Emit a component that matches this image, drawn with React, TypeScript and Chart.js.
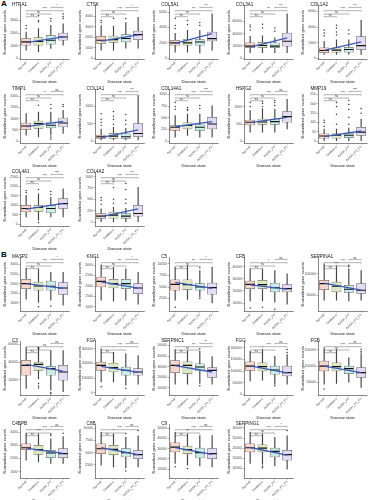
import React, { useEffect, useRef } from 'react';
import { Chart, registerables } from 'chart.js';
Chart.register(...registerables);

const FONT = "'Liberation Sans', Arial, sans-serif";

const CATEGORIES = ['Normal', 'Steatosis', 'NASH_F0', 'NASH_F1_F4'];
const BOX_FILL = ['#F9D6CB', '#DDE8C3', '#C9ECE9', '#E6DBF4'];

const GENES = [
  'HTRA1', 'CTSK', 'COL5A1', 'COL3A1', 'COL1A2',
  'TIMP1', 'COL1A1', 'COL14A1', 'HSPG2', 'MMP19',
  'COL4A1', 'COL4A2',
  'MASP2', 'KNG1', 'C5', 'CFB', 'SERPINA1',
  'C3', 'FGA', 'SERPINC1', 'FGG', 'FGB',
  'C4BPB', 'C8B', 'C9', 'SERPING1',
];

// whisker lower ends
const LOWER = [
  [650, 520, 780, 1040], [780, 780, 970, 970], [775, 775, 650, 1030], [9050, 9050, 9050, 9050], [500, 500, 500, 500],
  [265, 190, 265, 340], [29, 29, 29, 29], [90, 126, 90, 90], [266, 266, 266, 360], [3, 3, 3, 4],
  [384, 210, 384, 384], [10, 0, 10, 6],
  [1195, 1026, 1144, 887], [1325, 1278, 1325, 1137], [2158, 2308, 2863, 1581], [11800, 11800, 10740, 9100], [38480, 38480, 36870, 38480],
  [10440, 21000, 8560, 6670], [74320, 74320, 52030, 58780], [13610, 13610, 14260, 13610], [57630, 60590, 43640, 43640], [45210, 47310, 51200, 35330],
  [1872, 1744, 1624, 1624], [2440, 2097, 1895, 2097], [15440, 13790, 13110, 12140], [12350, 11860, 11180, 9560],
];
const Q1 = [
  [1040, 1040, 1120, 1430], [1415, 1510, 1570, 1790], [1680, 1680, 1680, 2230], [17000, 17000, 17000, 19500], [710, 790, 790, 1125],
  [518, 562, 588, 633], [77, 77, 77, 123], [231, 265, 231, 265], [474, 486, 486, 551], [17, 17, 19, 32],
  [647, 668, 595, 826], [80, 87, 80, 130],
  [1744, 1656, 1656, 1436], [1953, 1906, 1877, 1641], [4295, 4444, 4295, 3440], [21970, 21970, 19180, 19180], [63130, 57600, 56220, 53920],
  [25220, 30780, 25220, 19670], [153380, 141890, 119590, 119590], [24440, 23520, 25930, 19810], [102970, 100000, 86020, 78810], [85030, 85030, 77250, 65270],
  [2677, 2323, 2075, 2075], [4798, 4597, 4113, 3790], [26700, 25150, 20870, 20290], [18040, 18040, 15590, 13970],
];
const MEDIAN = [
  [1300, 1330, 1430, 1690], [1725, 1790, 1890, 2260], [1975, 1975, 2100, 2540], [19500, 20600, 19500, 27500], [1000, 1040, 1125, 1625],
  [677, 783, 708, 810], [123, 143, 123, 220], [300, 336, 300, 370], [551, 560, 571, 714], [28, 32, 32, 49],
  [826, 879, 826, 1090], [130, 152, 130, 189],
  [2000, 1877, 1862, 1774], [2222, 2113, 2113, 1906], [5577, 5513, 5000, 4872], [25490, 25250, 22790, 21970], [76960, 70740, 63820, 61520],
  [36330, 37440, 32670, 28890], [187160, 171620, 153380, 141890], [31200, 31200, 29630, 26570], [121190, 118640, 104240, 93220], [100000, 98200, 92220, 80240],
  [2827, 2677, 2421, 2376], [5806, 5665, 5000, 4597], [31550, 29030, 26120, 25150], [20200, 20000, 18380, 16760],
];
const Q3 = [
  [1570, 1640, 1830, 2000], [2100, 2130, 2260, 2600], [2320, 2410, 2410, 3390], [24900, 25900, 24900, 40800], [1340, 1340, 1410, 2790],
  [810, 898, 854, 1031], [171, 220, 209, 506], [336, 391, 349, 510], [617, 646, 646, 857], [40, 40, 44, 75],
  [1000, 1000, 1000, 1352], [189, 217, 189, 370],
  [2221, 2082, 2133, 2051], [2425, 2316, 2316, 2113], [6581, 6581, 5726, 5855], [28200, 28770, 26560, 25250], [84560, 80650, 73040, 76960],
  [41890, 40000, 35220, 36330], [209460, 202700, 175680, 164860], [35830, 34630, 32780, 29070], [139830, 135590, 121190, 121190], [114970, 110180, 100000, 95210],
  [3128, 3000, 2624, 2752], [6815, 6472, 5806, 5464], [35830, 32520, 30580, 30000], [22160, 21670, 20000, 18870],
];
// whisker upper ends
const UPPER = [
  [2080, 2350, 2610, 2740], [3140, 3050, 3420, 3920], [3230, 3610, 3610, 5770], [35400, 36500, 33300, 72500], [2160, 2375, 2375, 4875],
  [1225, 1296, 1296, 1372], [343, 400, 371, 1314], [546, 580, 580, 756], [886, 951, 923, 1217], [65, 65, 70, 119],
  [1526, 1616, 1420, 1879], [289, 326, 304, 767],
  [2800, 2770, 2595, 2595], [3010, 2896, 2820, 2660], [9274, 9637, 8568, 9274], [38360, 38360, 36970, 34260], [123040, 115200, 111520, 107600],
  [56670, 56670, 53000, 53000], [300000, 277030, 266220, 254730], [46020, 45090, 44440, 39540], [184750, 191950, 163560, 170760], [155090, 150000, 125150, 135030],
  [3925, 3880, 3504, 3677], [9153, 8831, 8145, 8427], [46120, 44560, 42910, 42910], [27840, 27060, 25390, 26080],
];
const OUTLIERS = [
  [[2370, 2610], [2870, 3000, 3390], [2950, 3150], [3150, 3310, 3520]],
  [[3420, 3610], [3800], [3800], []],
  [[3870, 4260, 5160], [4390, 4900], [4260, 4650], []],
  [[46000, 50800, 54000], [49200, 55500], [44000, 49200], []],
  [[2875, 3250, 3625], [3000, 3375, 3875, 4250], [3125, 3625], []],
  [[], [1606], [1460, 1637, 177, 88], [1550, 1637]],
  [[457, 543, 629, 791], [486, 629, 714, 857], [486, 600, 771], []],
  [[685, 741, 825], [660, 678, 720], [700, 762], []],
  [[1009, 1123], [1009, 1094, 1151], [1037, 1123, 1180], []],
  [[80, 100, 112], [91, 144, 186, 207], [91, 128, 170, 196, 217], [150, 175]],
  [[1680, 1789], [1840, 68], [1580, 1737], []],
  [[391, 478, 543], [413, 500, 760, 891], [413, 500, 717, 848], []],
  [[], [800], [836], []],
  [[], [], [], []],
  [[598], [], [9145, 2500], []],
  [[5800], [6400], [4800], []],
  [[], [118000], [116800, 120000], []],
  [[], [16000, 13000, 11000], [5500, 4500], []],
  [[40540], [], [30000], []],
  [[], [], [12040, 46800], []],
  [[], [], [36440], [180000, 191950]],
  [[30240], [], [], [140000, 144000, 150000]],
  [[], [], [3750, 3880], [3925]],
  [[], [], [1230, 8900], [9496]],
  [[12140], [10580], [], []],
  [[], [10200, 11030], [], [28680]],
];
// fitted trend line: value at Normal and at NASH_F1_F4
const TREND = [
  [1250, 1700], [1650, 2250], [1900, 3200], [18000, 33000], [1000, 2100],
  [650, 880], [100, 320], [310, 420], [540, 690], [25, 55],
  [800, 1100], [120, 290],
  [2000, 1750], [2200, 1900], [6000, 4700], [25000, 21500], [78000, 62000],
  [37500, 30000], [180000, 140000], [31000, 25000], [122000, 92000], [100000, 80000],
  [2800, 2400], [6000, 4600], [31000, 24500], [20300, 16500],
];
const Y_MIN = [
  -55, -66, -129, -1500, -100,
  -88, -57, -36, -49, -9,
  -105, -87,
  580, 807, -192, 3361, 13134,
  3000, -15540, 3426, -2966, 12275,
  519, -181, 1165, 5147,
];
const Y_MAX = [
  4170, 5030, 6840, 85700, 6750,
  2300, 1486, 1099, 1494, 275,
  2737, 1087,
  3349, 3354, 11346, 47623, 137558,
  63000, 349300, 53426, 225847, 173952,
  4579, 10706, 53592, 31618,
];
const Y_TICKS = [
  [0, 1000, 2000, 3000], [0, 1000, 2000, 3000, 4000], [0, 2000, 4000, 6000], [0, 20000, 40000, 60000], [0, 2000, 4000, 6000],
  [0, 500, 1000, 1500, 2000], [0, 500, 1000], [0, 250, 500, 750, 1000], [0, 500, 1000], [0, 50, 100, 150, 200, 250],
  [0, 500, 1000, 1500, 2000, 2500], [0, 250, 500, 750, 1000],
  [1000, 1500, 2000, 2500, 3000], [1000, 1500, 2000, 2500, 3000], [2500, 5000, 7500, 10000], [10000, 20000, 30000, 40000], [50000, 100000],
  [20000, 40000, 60000], [0, 100000, 200000, 300000], [10000, 20000, 30000, 40000, 50000], [0, 50000, 100000, 150000, 200000], [50000, 100000, 150000],
  [1000, 2000, 3000, 4000], [2500, 5000, 7500, 10000], [10000, 20000, 30000, 40000, 50000], [10000, 15000, 20000, 25000, 30000],
];
// compared pairs (category indices) and significance labels
const PAIRS = [[0, 1], [0, 2], [0, 3], [2, 3]];
const SIGNIF = [
  ['ns', 'ns', '****', '*'], ['ns', 'ns', '****', '*'], ['ns', 'ns', '***', '***'], ['ns', 'ns', '***', '***'], ['ns', 'ns', '****', '***'],
  ['ns', 'ns', '**', 'ns'], ['ns', 'ns', '****', '***'], ['ns', 'ns', '****', '****'], ['ns', 'ns', '****', 'ns'], ['ns', 'ns', '****', '****'],
  ['ns', 'ns', '****', '****'], ['ns', 'ns', '****', '***'],
  ['ns', 'ns', '****', '*'], ['ns', 'ns', '***', '*'], ['ns', 'ns', '***', '*'], ['ns', 'ns', '*', 'ns'], ['ns', '****', '****', 'ns'],
  ['ns', 'ns', 'ns', 'ns'], ['ns', '*', '****', 'ns'], ['ns', 'ns', '***', '**'], ['ns', '*', '****', 'ns'], ['ns', 'ns', '****', 'ns'],
  ['ns', '****', '****', 'ns'], ['ns', '*', '****', 'ns'], ['ns', '***', '****', 'ns'], ['ns', 'ns', '****', '*'],
];

// layout (pixels)
const COL_W = 74.6;
const ROW_TOPS_A = [0, 84, 167];
const ROW_TOPS_B = [252, 336, 419];
const BRACKET_OFFSETS = [11, 8.3, 5, 1.7];

function panelPos(i: number) {
  if (i < 12) return { left: (i % 5) * COL_W, top: ROW_TOPS_A[Math.floor(i / 5)] };
  const j = i - 12;
  return { left: (j % 5) * COL_W, top: ROW_TOPS_B[Math.floor(j / 5)] };
}

function BoxPanel({ idx }: { idx: number }) {
  const ref = useRef<HTMLCanvasElement | null>(null);
  useEffect(() => {
    if (!ref.current) return;
    const bracketPlugin = {
      id: 'sigBrackets',
      afterDatasetsDraw(chart: any) {
        const { ctx, chartArea, scales } = chart;
        const x = scales.x;
        ctx.save();
        ctx.strokeStyle = '#555';
        ctx.lineWidth = 0.45;
        ctx.fillStyle = '#222';
        ctx.font = `2.8px ${FONT}`;
        ctx.textAlign = 'center';
        ctx.textBaseline = 'bottom';
        PAIRS.forEach(([a, b], k) => {
          const x1 = x.getPixelForValue(a);
          const x2 = x.getPixelForValue(b);
          const y = chartArea.top + BRACKET_OFFSETS[k];
          ctx.beginPath();
          ctx.moveTo(x1, y + 0.8);
          ctx.lineTo(x1, y);
          ctx.lineTo(x2, y);
          ctx.lineTo(x2, y + 0.8);
          ctx.stroke();
          ctx.fillText(SIGNIF[idx][k], (x1 + x2) / 2, y - 0.1);
        });
        ctx.restore();
      },
    };
    const outlierPoints: { x: string; y: number }[] = [];
    OUTLIERS[idx].forEach((vals, k) => vals.forEach((v) => outlierPoints.push({ x: CATEGORIES[k], y: v })));
    const tickGrid = {
      display: true,
      drawOnChartArea: false,
      drawTicks: true,
      tickLength: 1.5,
      color: '#333',
      lineWidth: 0.4,
    };
    const chart = new Chart(ref.current, {
      type: 'bar',
      data: {
        labels: CATEGORIES,
        datasets: [
          {
            type: 'line',
            data: [
              { x: CATEGORIES[0], y: TREND[idx][0] },
              { x: CATEGORIES[3], y: TREND[idx][1] },
            ],
            borderColor: '#3A5AB6',
            borderWidth: 1.3,
            pointRadius: 0,
            order: 0,
          } as any,
          {
            type: 'line',
            data: MEDIAN[idx],
            showLine: false,
            pointStyle: 'line',
            pointRadius: 4.6,
            pointBorderWidth: 1.1,
            pointBorderColor: '#111',
            order: 1,
          } as any,
          {
            type: 'bar',
            data: CATEGORIES.map((_, k) => [Q1[idx][k], Q3[idx][k]]),
            backgroundColor: BOX_FILL,
            borderColor: '#4a4a4a',
            borderWidth: 0.5,
            borderSkipped: false,
            barThickness: 9.2,
            grouped: false,
            order: 2,
          } as any,
          {
            type: 'bar',
            data: CATEGORIES.map((_, k) => [LOWER[idx][k], UPPER[idx][k]]),
            backgroundColor: '#444',
            barThickness: 0.5,
            grouped: false,
            order: 3,
          } as any,
          {
            type: 'line',
            data: outlierPoints,
            showLine: false,
            pointRadius: 0.75,
            pointBackgroundColor: '#333',
            pointBorderWidth: 0,
            order: 4,
          } as any,
        ],
      },
      options: {
        responsive: false,
        animation: false,
        devicePixelRatio: 1,
        events: [],
        layout: { padding: { top: 5, right: 3.5, left: 0, bottom: 0 } },
        plugins: { legend: { display: false }, tooltip: { enabled: false }, title: { display: false } },
        scales: {
          x: {
            type: 'category',
            offset: true,
            grid: { ...tickGrid, offset: false },
            border: { display: true, color: '#111', width: 0.5 },
            ticks: {
              autoSkip: false,
              maxRotation: 45,
              minRotation: 45,
              padding: 0.5,
              color: '#4d4d4d',
              font: { size: 3.3, family: FONT },
            },
            title: {
              display: true,
              text: 'Disease state',
              color: '#111',
              font: { size: 4, family: FONT },
              padding: { top: 3.6, bottom: 0 },
            },
            afterFit: (s: any) => {
              s.height = 25;
            },
          },
          y: {
            type: 'linear',
            min: Y_MIN[idx],
            max: Y_MAX[idx],
            afterBuildTicks: (s: any) => {
              s.ticks = Y_TICKS[idx].map((v) => ({ value: v }));
            },
            grid: tickGrid,
            border: { display: true, color: '#111', width: 0.5 },
            ticks: {
              padding: 0.8,
              color: '#4d4d4d',
              font: { size: 3.3, family: FONT },
              callback: (v: any) => String(v),
            },
            title: {
              display: true,
              text: 'Normalized gene counts',
              color: '#111',
              font: { size: 4.1, family: FONT },
              padding: { top: 2.5, bottom: 0 },
            },
            afterFit: (s: any) => {
              s.width = 20;
            },
          },
        },
      } as any,
      plugins: [bracketPlugin],
    });
    return () => chart.destroy();
  }, [idx]);

  const pos = panelPos(idx);
  return (
    <div style={{ position: 'absolute', left: pos.left, top: pos.top, width: 75, height: 84 }}>
      <canvas ref={ref} width={75} height={84} style={{ position: 'absolute', left: 0, top: 0 }} />
      <div
        style={{
          position: 'absolute',
          left: 12,
          top: 1.6,
          fontFamily: FONT,
          fontSize: '4.6px',
          lineHeight: '5px',
          color: '#111',
          whiteSpace: 'nowrap',
        }}
      >
        {GENES[idx]}
      </div>
    </div>
  );
}

export default function App() {
  return (
    <div
      style={{
        position: 'fixed',
        left: 0,
        top: 0,
        width: 373,
        height: 500,
        overflow: 'hidden',
        background: '#fff',
      }}
    >
      <div style={{ position: 'absolute', left: 1, top: -1, fontFamily: FONT, fontWeight: 'bold', fontSize: '8px' }}>A</div>
      <div style={{ position: 'absolute', left: 1, top: 250, fontFamily: FONT, fontWeight: 'bold', fontSize: '8px' }}>B</div>
      {GENES.map((_, i) => (
        <BoxPanel key={i} idx={i} />
      ))}
    </div>
  );
}
